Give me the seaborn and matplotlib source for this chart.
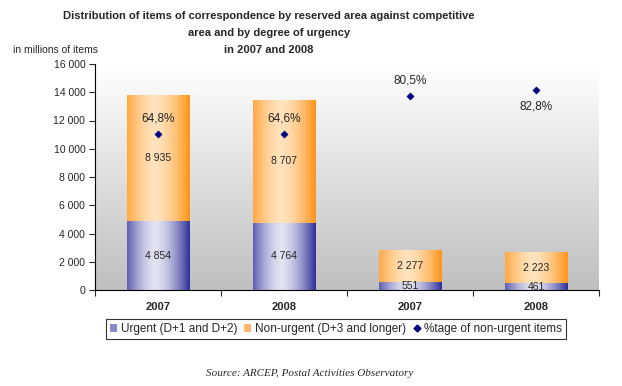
import numpy as np
import matplotlib
matplotlib.use("Agg")
import matplotlib.pyplot as plt
import seaborn as sns
from matplotlib.patches import Patch
from matplotlib.lines import Line2D
from matplotlib.ticker import FuncFormatter

# Data (millions of items)
groups = ["Reserved 2007", "Reserved 2008", "Competitive 2007", "Competitive 2008"]
year_labels = ["2007", "2008", "2007", "2008"]
urgent = [4854, 4764, 551, 461]
non_urgent = [8935, 8707, 2277, 2223]
pct_non_urgent = [64.8, 64.6, 80.5, 82.8]
pct_label_above = [True, True, True, False]
title_lines = [
    "Distribution of items of correspondence by reserved area against competitive",
    "area and by degree of urgency",
    "in 2007 and 2008",
]

totals = [u + n for u, n in zip(urgent, non_urgent)]

sns.set_style("white")
plt.rcParams['font.family'] = ['Liberation Sans', 'DejaVu Sans']

fig = plt.figure(figsize=(6.22, 3.86), dpi=100)
ax = fig.add_axes([95 / 622, 1 - 290 / 386, 504 / 622, 226 / 386])

# stacked bars: total first (orange), urgent on top of it (blue)
sns.barplot(x=groups, y=totals, color="#ffa030", width=0.5, ax=ax, zorder=2)
n_orange = len(ax.patches)
sns.barplot(x=groups, y=urgent, color="#4040a0", width=0.5, ax=ax, zorder=3)


def gradient(edge, light, n=64):
    t = np.abs(np.linspace(0, 1, n) - 0.45) / 0.55
    t = np.clip(t, 0, 1) ** 1.6
    edge = np.array(matplotlib.colors.to_rgb(edge))
    light = np.array(matplotlib.colors.to_rgb(light))
    return (light[None, :] + (edge - light)[None, :] * t[:, None])[None, :, :]


orange_grad = gradient("#ff9418", "#ffe2bc")
blue_grad = gradient("#30309a", "#e2e2f2")
for i, p in enumerate(ax.patches):
    x0, y0 = p.get_x(), p.get_y()
    w, h = p.get_width(), p.get_height()
    img = orange_grad if i < n_orange else blue_grad
    im = ax.imshow(img, extent=[x0, x0 + w, y0, y0 + h], aspect="auto",
                   zorder=p.get_zorder(), interpolation="bilinear")
    im.set_clip_path(p)
    p.set_facecolor("none")
    p.set_edgecolor("none")

# background gradient of the plot area
bg = np.linspace(1.0, 0.75, 100)[:, None] * np.ones((100, 2))
ax.imshow(np.dstack([bg, bg, bg]), extent=[0, 1, 0, 1], transform=ax.transAxes,
          aspect="auto", zorder=0, interpolation="bilinear")

ax.set_xlim(-0.5, 3.5)
ax.set_ylim(0, 16000)
ax.set_yticks(np.arange(0, 16001, 2000))
ax.yaxis.set_major_formatter(FuncFormatter(lambda v, _: f"{int(v):,}".replace(",", " ")))
ax.set_xticks(range(4))
ax.set_xticklabels(year_labels, fontweight="bold", fontsize=8)
ax.set_xticks([-0.5, 0.5, 1.5, 2.5, 3.5], minor=True)
ax.tick_params(axis="x", which="major", length=0, pad=9)
ax.tick_params(axis="x", which="minor", length=4, width=0.8, direction="out", bottom=True)
ax.tick_params(axis="y", length=4, width=0.8, direction="out", left=True, labelsize=7.5, pad=3)
ax.set_xlabel("")
ax.set_ylabel("")
for s in ["top", "right"]:
    ax.spines[s].set_visible(False)
for s in ["left", "bottom"]:
    ax.spines[s].set_color("black")
    ax.spines[s].set_linewidth(0.8)
    ax.spines[s].set_zorder(5)

# value labels inside segments
for i in range(4):
    ax.text(i, urgent[i] / 2, f"{urgent[i]:,}".replace(",", " "), ha="center", va="center",
            fontsize=7.5, zorder=6)
    ax.text(i, urgent[i] + non_urgent[i] / 2, f"{non_urgent[i]:,}".replace(",", " "),
            ha="center", va="center", fontsize=7.5, zorder=6)

# percentage of non-urgent items on a hidden secondary axis
ax2 = ax.twinx()
ax2.set_ylim(0, 93.6)
sns.scatterplot(x=np.arange(4), y=pct_non_urgent, marker="D", color="#000080", s=14,
                edgecolor="#000080", ax=ax2, zorder=7, legend=False)
for i, v in enumerate(pct_non_urgent):
    off = 11 if pct_label_above[i] else -12
    ax2.annotate(f"{v:.1f}%".replace(".", ","), (i, v), xytext=(0, off),
                 textcoords="offset points", ha="center", va="center",
                 fontsize=8.5)
ax2.set_xlim(-0.5, 3.5)
ax2.axis("off")

# titles and notes (one text per title line)
for k, line in enumerate(title_lines):
    fig.text(269 / 622, 1 - (16 + 17 * k) / 386, line, ha="center", va="center",
             fontsize=8, fontweight="bold")
fig.text(13 / 622, 1 - 50 / 386, "in millions of items", ha="left", va="center", fontsize=7.5)
fig.text(310 / 622, 1 - 373 / 386, "Source: ARCEP, Postal Activities Observatory",
         ha="center", va="center", fontsize=8, fontstyle="italic", family="Liberation Serif")

handles = [
    Patch(facecolor="#8a8ac8", edgecolor="none", label="Urgent (D+1 and D+2)"),
    Patch(facecolor="#ffb866", edgecolor="none", label="Non-urgent (D+3 and longer)"),
    Line2D([], [], marker="D", color="#000080", linestyle="none", markersize=3.5,
           label="%tage of non-urgent items"),
]
leg = fig.legend(handles=handles, loc="center", bbox_to_anchor=(336 / 622, 1 - 329 / 386),
                 ncol=3, fontsize=8.5, frameon=True, fancybox=False, edgecolor="black",
                 handlelength=0.6, handleheight=0.6, handletextpad=0.3, columnspacing=0.6,
                 borderpad=0.35, borderaxespad=0)
leg.get_frame().set_linewidth(0.8)

fig.savefig("out.png", dpi=100)
